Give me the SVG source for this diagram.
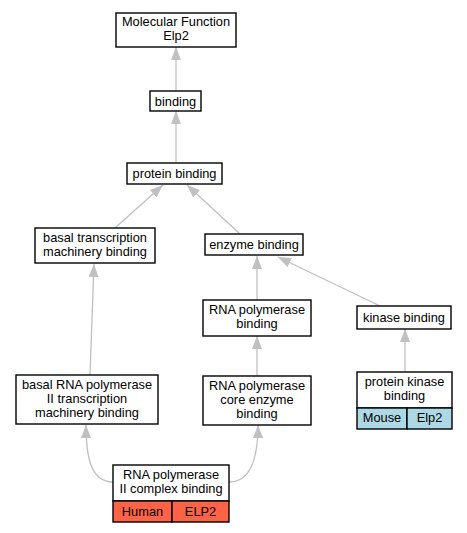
<svg xmlns="http://www.w3.org/2000/svg" width="467" height="533" viewBox="0 0 467 533">
<style>
.box{fill:#fff;stroke:#000;stroke-width:1.4}
.hum{fill:#ff6347;stroke:#000;stroke-width:1.4}
.mou{fill:#add8e6;stroke:#000;stroke-width:1.4}
text{font-family:"Liberation Sans",Arial,sans-serif;font-size:12.8px;text-anchor:middle;fill:#000}
.e{fill:none;stroke:#c0c0c0;stroke-width:1.3}
</style>
<defs>
<marker id="ah" viewBox="0 0 13 10" refX="13" refY="5" markerWidth="13" markerHeight="10" markerUnits="userSpaceOnUse" orient="auto">
<path d="M0,0 L13,5 L0,10 z" fill="#c0c0c0"/>
</marker>
</defs>
<rect width="467" height="533" fill="#fff"/>
<g id="edges">
<path class="e" d="M176,91 L176,47" marker-end="url(#ah)"/>
<path class="e" d="M176,163 L176,111" marker-end="url(#ah)"/>
<path class="e" d="M115,228 L163,185" marker-end="url(#ah)"/>
<path class="e" d="M240,234 L187,185" marker-end="url(#ah)"/>
<path class="e" d="M257,300 L257,256" marker-end="url(#ah)"/>
<path class="e" d="M380,306 L278,257" marker-end="url(#ah)"/>
<path class="e" d="M257,376 L257,336" marker-end="url(#ah)"/>
<path class="e" d="M405,372 L405,329" marker-end="url(#ah)"/>
<path class="e" d="M90,375 L94,264" marker-end="url(#ah)"/>
<path class="e" d="M113,482 C90,482 86,455 86,425" marker-end="url(#ah)"/>
<path class="e" d="M229,482 C252,482 258,455 258,425" marker-end="url(#ah)"/>
</g>
<g id="mf">
<rect class="box" x="116" y="13" width="120" height="34"/>
<text x="176" y="26">Molecular Function</text>
<text x="176" y="40">Elp2</text>
</g>
<g id="binding">
<rect class="box" x="150" y="91" width="51" height="20"/>
<text x="175.5" y="105.5">binding</text>
</g>
<g id="protein_binding">
<rect class="box" x="127" y="163" width="95" height="21"/>
<text x="174.5" y="178">protein binding</text>
</g>
<g id="basal_transcription">
<rect class="box" x="35" y="228" width="120" height="35"/>
<text x="95" y="242">basal transcription</text>
<text x="95" y="256">machinery binding</text>
</g>
<g id="enzyme_binding">
<rect class="box" x="205" y="234" width="98" height="21"/>
<text x="254" y="249">enzyme binding</text>
</g>
<g id="rnapol_binding">
<rect class="box" x="203" y="300" width="108" height="36"/>
<text x="257" y="314">RNA polymerase</text>
<text x="257" y="328">binding</text>
</g>
<g id="kinase_binding">
<rect class="box" x="357" y="306" width="94" height="23"/>
<text x="404" y="322">kinase binding</text>
</g>
<g id="basal_rnapol2">
<rect class="box" x="16" y="375" width="142" height="49"/>
<text x="87" y="389">basal RNA polymerase</text>
<text x="87" y="403">II transcription</text>
<text x="87" y="417">machinery binding</text>
</g>
<g id="core_enzyme">
<rect class="box" x="203" y="376" width="108" height="49"/>
<text x="257" y="390">RNA polymerase</text>
<text x="257" y="404">core enzyme</text>
<text x="257" y="418">binding</text>
</g>
<g id="protein_kinase">
<rect class="box" x="357" y="372" width="95" height="36"/>
<rect class="mou" x="357" y="408" width="50" height="21"/>
<rect class="mou" x="407" y="408" width="45" height="21"/>
<text x="404.5" y="386">protein kinase</text>
<text x="404.5" y="400">binding</text>
<text x="382" y="422">Mouse</text>
<text x="429.5" y="422">Elp2</text>
</g>
<g id="rnapol2_complex">
<rect class="box" x="113" y="465" width="116" height="36"/>
<rect class="hum" x="113" y="501" width="59" height="21"/>
<rect class="hum" x="172" y="501" width="57" height="21"/>
<text x="171" y="479">RNA polymerase</text>
<text x="171" y="493">II complex binding</text>
<text x="142.5" y="516">Human</text>
<text x="200.5" y="516">ELP2</text>
</g>
</svg>
